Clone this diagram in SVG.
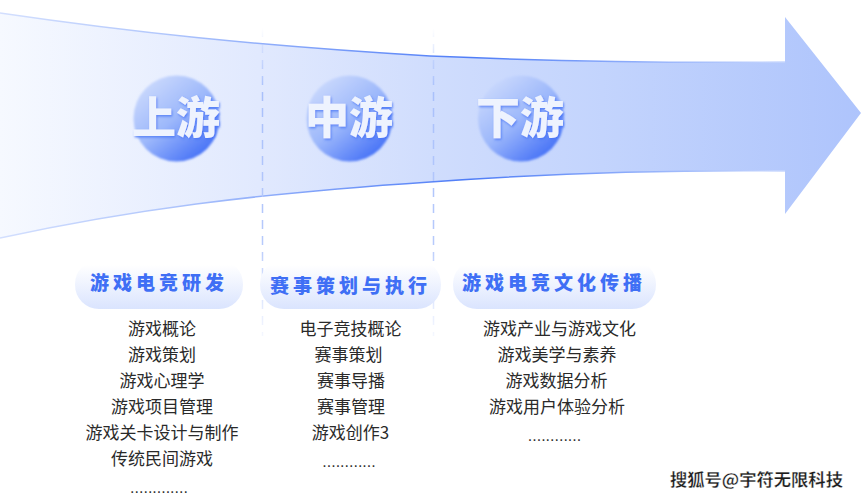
<svg xmlns="http://www.w3.org/2000/svg" width="861" height="499" viewBox="0 0 861 499">
<style>
.cjk{font-family:"Noto Sans CJK SC","Noto Sans",sans-serif}
.item{font-size:17px;fill:#2a2a2a;text-anchor:middle}
.dots{font-family:"Liberation Sans",sans-serif;font-size:16px;fill:#333;text-anchor:middle}
.title{font-size:19px;font-weight:900;fill:#3f6ff5;letter-spacing:4px}
.big{font-size:44px;font-weight:900;fill:#eef3fe;text-anchor:middle;filter:url(#ts)}
.edge{fill:none;stroke:url(#edgeG);stroke-width:1.5}
.dash{fill:none;stroke-width:1.5;stroke-dasharray:9 7}
.disc{fill:url(#disc);filter:url(#glow)}
.pill{fill:url(#pill)}
</style>
<defs>
<linearGradient id="body" gradientUnits="userSpaceOnUse" x1="0" y1="0" x2="861" y2="0"><stop offset="0" stop-color="#f6f9ff"/><stop offset=".3" stop-color="#e1e9fe"/><stop offset=".5" stop-color="#d0ddfd"/><stop offset=".7" stop-color="#c3d4fd"/><stop offset="1" stop-color="#aec4fc"/></linearGradient>
<linearGradient id="edgeG" gradientUnits="userSpaceOnUse" x1="0" y1="0" x2="785" y2="0"><stop offset="0" stop-color="#d3dffe"/><stop offset=".2" stop-color="#b3c8fc"/><stop offset=".45" stop-color="#7398f9"/><stop offset=".6" stop-color="#4f7df7"/><stop offset=".85" stop-color="#9cb7fb"/><stop offset="1" stop-color="#c5d5fd"/></linearGradient>
<linearGradient id="disc" x1=".15" y1=".1" x2=".8" y2=".9"><stop offset="0" stop-color="#c9d8fd"/><stop offset=".5" stop-color="#9db8fb"/><stop offset="1" stop-color="#4a75f7"/></linearGradient>
<linearGradient id="pill" x1="0" y1="0" x2="0" y2="1"><stop offset=".1" stop-color="#fff"/><stop offset="1" stop-color="#dae4fe"/></linearGradient>
<linearGradient id="dashG" gradientUnits="userSpaceOnUse" x1="0" y1="28" x2="0" y2="336"><stop offset="0" stop-color="#b7cafc" stop-opacity="0"/><stop offset=".2" stop-color="#a9c0fb"/><stop offset=".7" stop-color="#b7cafc"/><stop offset="1" stop-color="#c9d7fd" stop-opacity=".2"/></linearGradient>
<filter id="ts" x="-20%" y="-20%" width="140%" height="140%"><feDropShadow dx="1" dy="1.500" stdDeviation=".8" flood-color="#3f6ff5" flood-opacity=".75"/></filter>
<filter id="glow" x="-10%" y="-10%" width="120%" height="120%"><feGaussianBlur stdDeviation=".8"/></filter>
</defs>
<g id="arrow">
<path d="M0 13C130 32 250 45 430 56C570 62 680 63 785 62V17L861 113L785 214V171C680 170 570 172 430 182C250 194 130 210 0 238Z" fill="url(#body)"/>
</g>
<g id="connectors">
<path class="edge" d="M0 13C130 32 250 45 430 56C570 62 680 63 785 62"/>
<path class="edge" d="M0 238C130 210 250 194 430 182C570 172 680 170 785 171"/>
<path class="dash" stroke="url(#dashG)" d="M262.500 28V336"/>
<path class="dash" stroke="url(#dashG)" d="M433.500 28V336"/>
</g>
<g id="stage-up" class="cjk"><circle class="disc" cx="176.500" cy="118.500" r="43"/><text class="big" x="176" y="134">上游</text></g>
<g id="stage-mid" class="cjk"><circle class="disc" cx="349.500" cy="118.500" r="43"/><text class="big" x="349" y="134">中游</text></g>
<g id="stage-down" class="cjk"><circle class="disc" cx="521" cy="118.500" r="43"/><text class="big" x="520" y="134">下游</text></g>
<g id="col-1" class="cjk">
<rect class="pill" x="75" y="260" width="168" height="49" rx="24"/>
<text class="title" x="90" y="290">游戏电竞研发</text>
<text class="item" x="162" y="335">游戏概论</text>
<text class="item" x="162" y="361">游戏策划</text>
<text class="item" x="162" y="387">游戏心理学</text>
<text class="item" x="162" y="413">游戏项目管理</text>
<text class="item" x="162" y="439">游戏关卡设计与制作</text>
<text class="item" x="162" y="465">传统民间游戏</text>
<text class="dots" x="159" y="493">.............</text>
</g>
<g id="col-2" class="cjk">
<rect class="pill" x="260" y="260" width="181" height="49" rx="24"/>
<text class="title" x="270" y="293">赛事策划与执行</text>
<text class="item" x="350.500" y="335">电子竞技概论</text>
<text class="item" x="348.500" y="361">赛事策划</text>
<text class="item" x="351" y="387">赛事导播</text>
<text class="item" x="351" y="413">赛事管理</text>
<text class="item" x="350.500" y="439">游戏创作3</text>
<text class="dots" x="349" y="467">............</text>
</g>
<g id="col-3" class="cjk">
<rect class="pill" x="453" y="260" width="203" height="49" rx="24"/>
<text class="title" x="462" y="290">游戏电竞文化传播</text>
<text class="item" x="559.500" y="335">游戏产业与游戏文化</text>
<text class="item" x="557" y="361">游戏美学与素养</text>
<text class="item" x="556.500" y="387">游戏数据分析</text>
<text class="item" x="557" y="413">游戏用户体验分析</text>
<text class="dots" x="554.500" y="441">............</text>
</g>
<g id="watermark" class="cjk"><text x="670" y="486" font-size="17.300" font-weight="700" fill="#1c1c1c" stroke="#fff" stroke-width=".3">搜狐号@宇符无限科技</text></g>
</svg>
